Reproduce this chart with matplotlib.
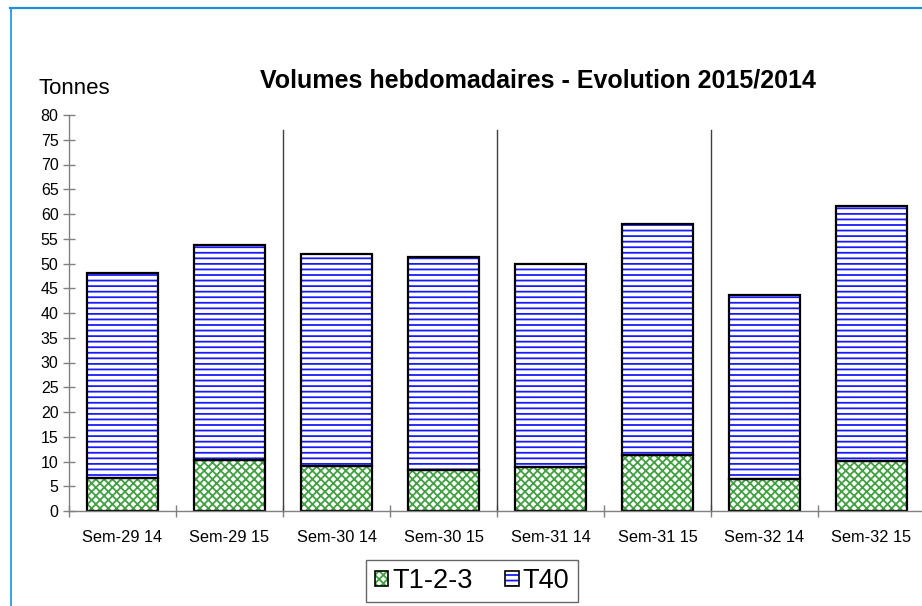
import numpy as np
import matplotlib
matplotlib.use('Agg')
from matplotlib import pyplot as plt
from matplotlib.lines import Line2D
from matplotlib.patches import Patch

weeks = ['Sem-29 14', 'Sem-29 15', 'Sem-30 14', 'Sem-30 15',
         'Sem-31 14', 'Sem-31 15', 'Sem-32 14', 'Sem-32 15']
t123 = [6.6, 10.3, 9.0, 8.3, 8.9, 11.3, 6.5, 10.2]
totals = [48.0, 53.7, 51.9, 51.4, 50.0, 58.0, 43.6, 61.7]
t40 = [tot - a for tot, a in zip(totals, t123)]
y_ticks = list(range(0, 85, 5))

plt.rcParams['font.family'] = ['Liberation Sans', 'DejaVu Sans']
plt.rcParams['hatch.linewidth'] = 1.3

fig = plt.figure(figsize=(9.22, 6.06), dpi=100)
ax = fig.add_axes([69/922, 95/606, 856/922, 396/606])

x = np.arange(len(weeks))
w = 0.665
green = '#42a042'
blue = '#1a1aff'

# fills with hatch, then black outlines on top
ax.bar(x, t123, w, color='white', edgecolor=green, hatch='xxxx', linewidth=0)
ax.bar(x, t40, w, bottom=t123, color='white', edgecolor=blue, hatch='---', linewidth=0)
ax.bar(x, t123, w, fill=False, edgecolor='black', linewidth=1.6)
ax.bar(x, t40, w, bottom=t123, fill=False, edgecolor='black', linewidth=1.6)

# separators between weeks
for sx in [1.5, 3.5, 5.5]:
    ax.plot([sx, sx], [0, 77], color='#404040', lw=1, clip_on=False)

ax.set_xlim(-0.5, len(weeks) - 0.5)
ax.set_ylim(0, 80)
ax.set_yticks(y_ticks)
ax.tick_params(axis='y', direction='inout', length=9, width=1, color='#808080',
               labelsize=11.5, pad=3)
ax.set_xticks(np.arange(len(weeks) + 1) - 0.5)
ax.set_xticklabels([])
ax.tick_params(axis='x', which='major', direction='inout', length=9, width=1, color='#808080')
ax.set_xticks(x, minor=True)
ax.set_xticklabels(weeks, minor=True)
ax.tick_params(axis='x', which='minor', length=0, labelsize=11.8, pad=14)

for s in ['top', 'right']:
    ax.spines[s].set_visible(False)
for s in ['left', 'bottom']:
    ax.spines[s].set_color('#808080')
    ax.spines[s].set_linewidth(1)

fig.text(538/922, 1 - 80/606, 'Volumes hebdomadaires - Evolution 2015/2014',
         ha='center', va='center', fontsize=18, fontweight='bold')
fig.text(38/922, 1 - 88/606, 'Tonnes', ha='left', va='center', fontsize=16)

# legend keys: hatch + black outline overlaid
outline = dict(fill=False, edgecolor='black', linewidth=1.2)
handles = [(Patch(facecolor='white', edgecolor=green, hatch='xxxx', linewidth=0), Patch(**outline)),
           (Patch(facecolor='white', edgecolor=blue, hatch='---', linewidth=0), Patch(**outline))]
leg = fig.legend(handles=handles, labels=['T1-2-3', 'T40'], loc='center',
                 bbox_to_anchor=(472/922, 1 - 581/606),
                 ncol=2, fontsize=19.5, frameon=True, fancybox=False,
                 handlelength=0.5, handleheight=0.5, handletextpad=0.15,
                 columnspacing=1.2, borderpad=0.3)
leg.get_frame().set_edgecolor('#404040')
leg.get_frame().set_linewidth(1)

# blue page border
fig.add_artist(Line2D([10/922, 1], [1 - 8/606, 1 - 8/606], color='#1e8fd6', lw=1.6))
fig.add_artist(Line2D([11/922, 11/922], [0, 1 - 8/606], color='#1e8fd6', lw=1.2))

fig.savefig('out.png', dpi=100)
